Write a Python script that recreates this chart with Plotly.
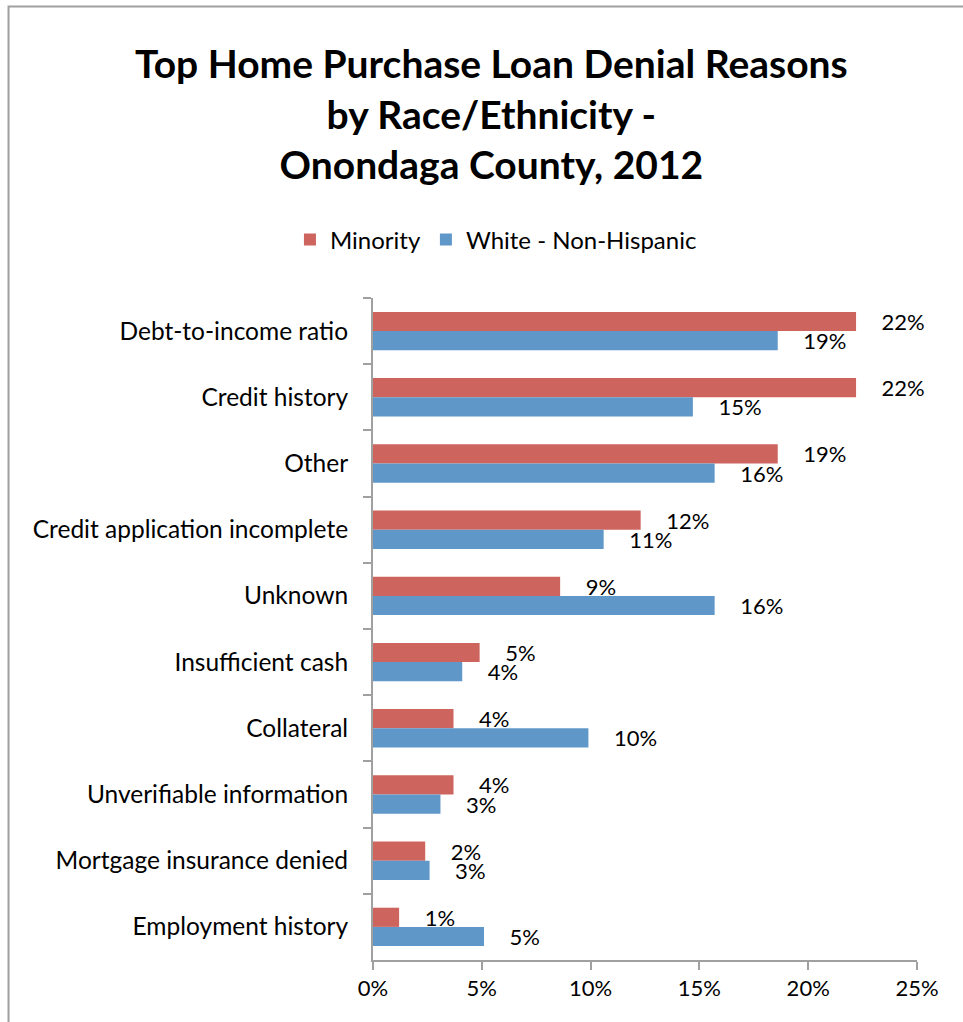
import plotly.graph_objects as go

reasons = [
    "Debt-to-income ratio",
    "Credit history",
    "Other",
    "Credit application incomplete",
    "Unknown",
    "Insufficient cash",
    "Collateral",
    "Unverifiable information",
    "Mortgage insurance denied",
    "Employment history",
]
minority = [0.222, 0.222, 0.186, 0.123, 0.086, 0.049, 0.037, 0.037, 0.024, 0.012]
white_non_hispanic = [0.186, 0.147, 0.157, 0.106, 0.157, 0.041, 0.099, 0.031, 0.026, 0.051]
x_ticks = [0, 0.05, 0.10, 0.15, 0.20, 0.25]
title_text = "Top Home Purchase Loan Denial Reasons<br>by Race/Ethnicity -<br>Onondaga County, 2012"

RED = "#CD645E"
BLUE = "#6097C9"
FONT = "Lato, 'Open Sans', sans-serif"
PAD = "\u00a0" * 4

fig = go.Figure()
for name, vals, color in [("Minority", minority, RED),
                          ("White - Non-Hispanic", white_non_hispanic, BLUE)]:
    fig.add_trace(go.Bar(
        name=name, y=reasons, x=vals, orientation="h",
        marker=dict(color=color, line=dict(width=0)),
        texttemplate=PAD + "%{x:.0%}", textposition="outside",
        constraintext="none", cliponaxis=False,
        textfont=dict(size=22, color="black", family=FONT),
    ))

fig.update_layout(
    width=963, height=1022,
    margin=dict(l=373, r=46, t=298, b=62),
    paper_bgcolor="white", plot_bgcolor="white",
    barmode="group", bargap=0.42, bargroupgap=0,
    font=dict(family=FONT, color="black"),
    legend=dict(
        orientation="h", x=0.226, xanchor="center", y=1.0876, yanchor="middle",
        font=dict(size=24, family=FONT, color="black"),
        traceorder="normal",
    ),
    showlegend=True,
)
fig.add_annotation(
    text=title_text, xref="paper", yref="paper",
    x=0.217, y=1.278, xanchor="center", yanchor="middle",
    showarrow=False, align="center",
    font=dict(size=39, family=FONT, color="black", weight="bold"),
)
fig.update_xaxes(
    range=[0, 0.25], tickvals=x_ticks, tickformat=".0%",
    showgrid=False, zeroline=False,
    showline=True, linecolor="#A0A0A0", linewidth=2,
    ticks="outside", ticklen=8, tickcolor="#A0A0A0", tickwidth=2,
    tickfont=dict(size=22, color="black", family=FONT),
    fixedrange=True,
)
fig.update_yaxes(
    autorange="reversed", type="category",
    showgrid=False, showline=True, linecolor="#A0A0A0", linewidth=2,
    ticks="outside", tickson="boundaries", ticklen=8, tickcolor="#A0A0A0", tickwidth=2,
    tickfont=dict(size=24.5, color="black", family=FONT),
    ticklabelstandoff=18,
    fixedrange=True,
)

# chart frame
fig.add_shape(type="rect", xref="paper", yref="paper",
              x0=-0.670, x1=2.0, y0=-1.0, y1=1.4403,
              line=dict(color="#A0A0A0", width=2), fillcolor="rgba(0,0,0,0)", layer="below")

fig.write_html("out.html")
